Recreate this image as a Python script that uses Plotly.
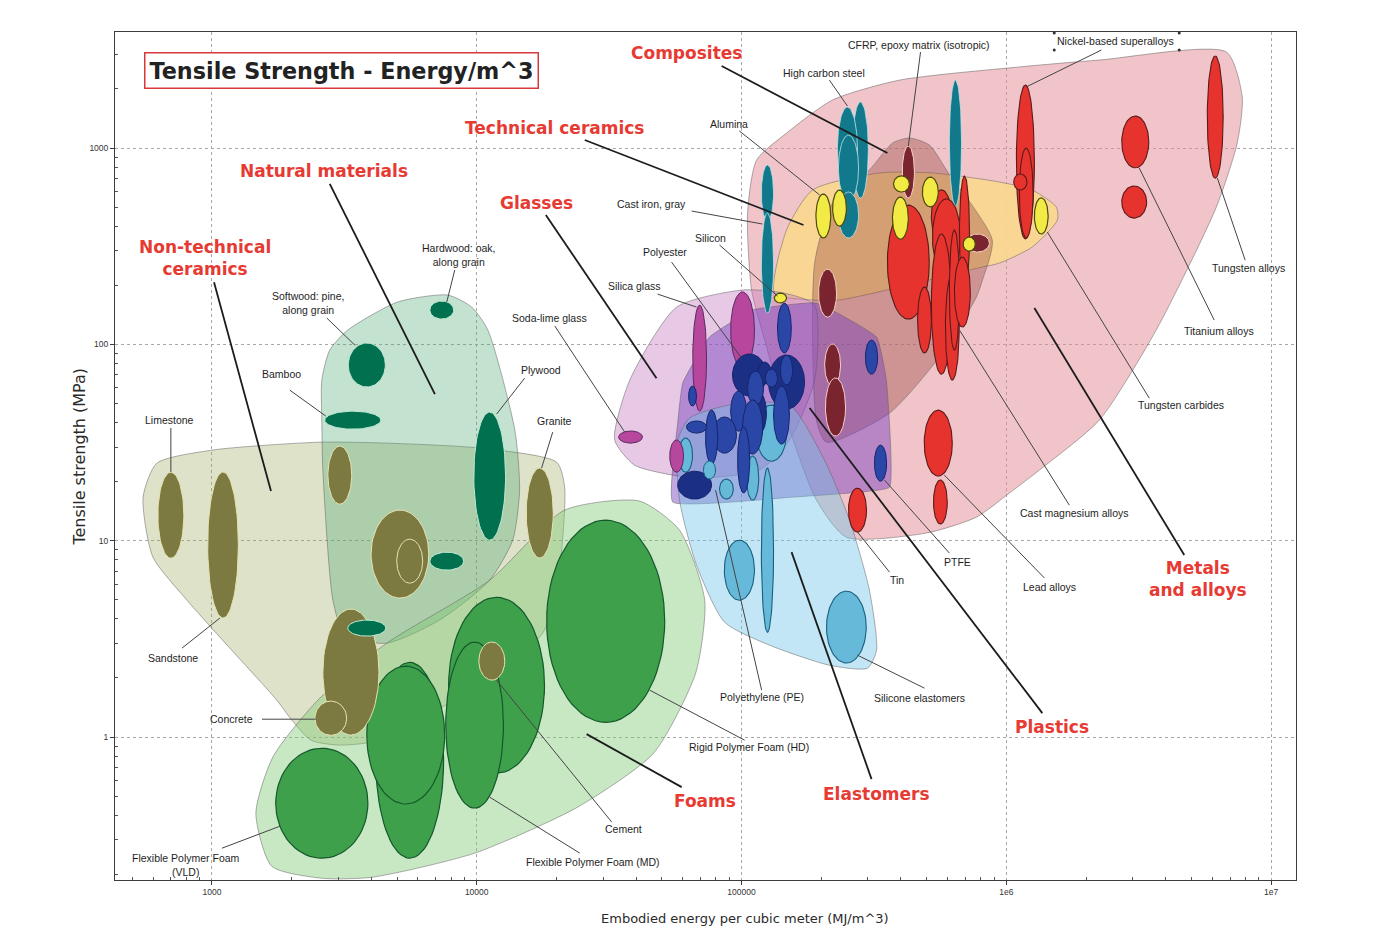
import numpy as np
import plotly.graph_objects as go

# All positions below are log10 of the axis values:
# energy = log10(MJ/m^3), strength = log10(MPa)
X_TICKS = [1000, 10000, 100000, 1000000, 10000000]
X_TICK_LABELS = ["1000", "10000", "100000", "1e6", "1e7"]
Y_TICKS = [1, 10, 100, 1000]
Y_TICK_LABELS = ["1", "10", "100", "1000"]
LOG_X_RANGE = [2.634, 7.094]
LOG_Y_RANGE = [-0.728, 3.591]
MINOR_DIGITS = [2, 3, 4, 5, 6, 7, 8, 9]

# ---- family envelopes ----
NONTECH_HULL_E = [2.740, 2.792, 3.004, 3.408, 3.660, 4.011, 4.302, 4.332, 4.313, 4.249, 3.974, 3.634, 3.483, 3.374, 3.302, 3.245, 3.030, 2.906, 2.777, 2.740]
NONTECH_HULL_S = [1.222, 1.395, 1.462, 1.502, 1.497, 1.472, 1.400, 1.273, 0.866, 0.529, 0.239, -0.016, -0.041, -0.016, 0.086, 0.188, 0.509, 0.697, 0.917, 1.222]
NATURAL_HULL_E = [3.513, 3.702, 3.891, 3.981, 4.042, 4.144, 4.162, 4.136, 4.049, 3.860, 3.660, 3.502, 3.457, 3.419, 3.415, 3.415, 3.445, 3.513]
NATURAL_HULL_S = [2.073, 2.216, 2.251, 2.190, 2.073, 1.563, 1.258, 1.003, 0.799, 0.596, 0.478, 0.519, 0.697, 1.360, 1.614, 1.818, 1.971, 2.073]
FOAM_HULL_E = [4.332, 4.615, 4.766, 4.861, 4.827, 4.668, 4.381, 3.993, 3.604, 3.415, 3.226, 3.166, 3.230, 3.400, 3.660, 4.049, 4.332]
FOAM_HULL_S = [1.156, 1.202, 1.054, 0.697, 0.326, -0.082, -0.357, -0.591, -0.714, -0.719, -0.658, -0.388, -0.102, 0.188, 0.478, 0.799, 1.156]
METAL_HULL_E = [5.023, 5.057, 5.170, 5.344, 5.597, 6.049, 6.351, 6.831, 6.891, 6.872, 6.793, 6.566, 6.351, 6.125, 6.012, 5.887, 5.698, 5.396, 5.283, 5.170, 5.095, 5.038, 5.023]
METAL_HULL_S = [2.669, 2.939, 3.076, 3.245, 3.346, 3.413, 3.448, 3.489, 3.260, 3.025, 2.699, 2.073, 1.614, 1.360, 1.243, 1.120, 1.039, 1.018, 1.207, 1.614, 1.986, 2.277, 2.669]
CERAMIC_HULL_E = [5.125, 5.170, 5.268, 5.521, 5.721, 5.974, 6.098, 6.189, 6.193, 6.098, 5.974, 5.910, 5.370, 5.268, 5.125]
CERAMIC_HULL_S = [2.261, 2.582, 2.786, 2.873, 2.873, 2.827, 2.786, 2.699, 2.633, 2.496, 2.414, 2.394, 2.226, 2.226, 2.261]
COMPOSITE_HULL_E = [5.483, 5.570, 5.634, 5.710, 5.774, 5.947, 5.910, 5.887, 5.759, 5.559, 5.321, 5.283, 5.276, 5.344, 5.483]
COMPOSITE_HULL_S = [2.888, 3.025, 3.051, 3.015, 2.888, 2.531, 2.328, 2.241, 1.956, 1.650, 1.502, 1.614, 2.414, 2.720, 2.888]
GLASS_HULL_E = [4.521, 4.578, 4.755, 5.004, 5.162, 5.276, 5.276, 5.181, 5.068, 4.842, 4.740, 4.596, 4.521]
GLASS_HULL_S = [1.513, 1.818, 2.190, 2.277, 2.261, 2.200, 1.818, 1.513, 1.360, 1.319, 1.334, 1.385, 1.513]
ELASTOMER_HULL_E = [4.759, 4.804, 4.955, 5.181, 5.313, 5.408, 5.483, 5.510, 5.476, 5.332, 5.106, 4.936, 4.830, 4.766, 4.759]
ELASTOMER_HULL_S = [1.513, 1.625, 1.691, 1.691, 1.411, 1.105, 0.748, 0.443, 0.351, 0.366, 0.468, 0.585, 0.876, 1.207, 1.513]
PLASTIC_HULL_E = [4.740, 5.193, 5.408, 5.559, 5.547, 5.510, 5.283, 5.042, 4.879, 4.778, 4.759, 4.740]
PLASTIC_HULL_S = [1.197, 1.222, 1.243, 1.273, 1.818, 2.037, 2.210, 2.175, 2.037, 1.803, 1.599, 1.197]

# ---- material bubbles: centre and half-range in decades ----
FOAM_E = [3.415, 3.747, 3.732, 4.075, 3.992, 4.487]
FOAM_S = [-0.337, -0.118, 0.010, 0.264, 0.061, 0.590]
FOAM_W = [0.174, 0.128, 0.147, 0.181, 0.109, 0.223]
FOAM_H = [0.280, 0.499, 0.351, 0.448, 0.423, 0.515]

STONE_E = [2.845, 3.042, 4.238, 3.483, 3.710, 3.525, 3.449, 3.747, 4.057]
STONE_S = [1.130, 0.978, 1.141, 1.334, 0.932, 0.331, 0.096, 0.896, 0.387]
STONE_W = [0.049, 0.058, 0.051, 0.045, 0.109, 0.106, 0.060, 0.049, 0.049]
STONE_H = [0.219, 0.372, 0.229, 0.148, 0.224, 0.321, 0.087, 0.112, 0.097]

WOOD_E = [3.868, 3.585, 3.532, 4.049, 3.887, 3.585]
WOOD_S = [2.175, 1.895, 1.614, 1.329, 0.896, 0.555]
WOOD_W = [0.045, 0.070, 0.106, 0.060, 0.064, 0.072]
WOOD_H = [0.046, 0.112, 0.046, 0.326, 0.046, 0.041]

GLASS_E = [4.842, 5.004, 4.581]
GLASS_S = [1.930, 2.073, 1.528]
GLASS_W = [0.026, 0.045, 0.045]
GLASS_H = [0.270, 0.194, 0.031]

STEEL_E = [5.098, 5.098, 5.449, 5.400, 5.404, 5.404, 5.808]
STEEL_S = [2.771, 2.414, 2.990, 2.990, 2.898, 2.659, 3.025]
STEEL_W = [0.023, 0.023, 0.030, 0.038, 0.038, 0.038, 0.023]
STEEL_H = [0.143, 0.255, 0.245, 0.219, 0.168, 0.117, 0.321]

COMPOSITE_E = [5.630, 5.325, 5.344, 5.355, 5.891]
COMPOSITE_S = [2.878, 2.261, 1.895, 1.681, 2.516]
COMPOSITE_W = [0.023, 0.034, 0.030, 0.038, 0.045]
COMPOSITE_H = [0.132, 0.122, 0.107, 0.148, 0.046]

METAL_E = [5.630, 5.755, 5.774, 5.842, 5.691, 5.755, 5.796, 5.804, 5.834, 5.743, 5.751, 5.438, 6.072, 6.075, 6.053, 6.487, 6.483, 6.789]
METAL_S = [2.419, 2.649, 2.547, 2.567, 2.124, 2.205, 2.088, 2.277, 2.266, 1.497, 1.197, 1.156, 2.929, 2.771, 2.827, 3.031, 2.725, 3.158]
METAL_W = [0.079, 0.038, 0.053, 0.019, 0.026, 0.038, 0.026, 0.019, 0.030, 0.053, 0.026, 0.034, 0.034, 0.026, 0.025, 0.051, 0.047, 0.030]
METAL_H = [0.290, 0.138, 0.194, 0.290, 0.168, 0.357, 0.270, 0.306, 0.178, 0.168, 0.112, 0.112, 0.392, 0.229, 0.041, 0.132, 0.082, 0.311]

CERAMIC_E = [5.309, 5.370, 5.604, 5.713, 5.600, 5.860, 5.147, 6.132]
CERAMIC_S = [2.654, 2.694, 2.817, 2.776, 2.643, 2.511, 2.236, 2.654]
CERAMIC_W = [0.028, 0.026, 0.030, 0.030, 0.030, 0.023, 0.023, 0.026]
CERAMIC_H = [0.112, 0.092, 0.041, 0.076, 0.107, 0.036, 0.025, 0.092]

ELASTOMER_E = [5.098, 4.992, 5.396, 5.113, 5.042, 4.789, 4.943]
ELASTOMER_S = [0.952, 0.850, 0.560, 1.548, 1.319, 1.436, 1.263]
ELASTOMER_W = [0.023, 0.057, 0.075, 0.057, 0.023, 0.026, 0.026]
ELASTOMER_H = [0.418, 0.153, 0.183, 0.143, 0.112, 0.087, 0.051]

NAVY_E = [5.030, 5.170, 4.823, 5.087, 5.068]
NAVY_S = [1.844, 1.808, 1.283, 1.854, 1.650]
NAVY_W = [0.064, 0.068, 0.064, 0.026, 0.026]
NAVY_H = [0.107, 0.138, 0.071, 0.056, 0.102]

PLASTIC_E = [5.162, 5.170, 5.113, 5.053, 4.989, 5.151, 5.042, 5.008, 4.936, 4.887, 4.830, 4.815, 5.491, 5.525]
PLASTIC_S = [2.083, 1.869, 1.828, 1.777, 1.660, 1.640, 1.579, 1.411, 1.538, 1.528, 1.579, 1.737, 1.935, 1.395]
PLASTIC_W = [0.026, 0.023, 0.023, 0.030, 0.030, 0.030, 0.038, 0.023, 0.045, 0.023, 0.038, 0.015, 0.023, 0.023]
PLASTIC_H = [0.127, 0.076, 0.046, 0.087, 0.102, 0.148, 0.138, 0.168, 0.092, 0.138, 0.031, 0.051, 0.087, 0.092]

LATE_E = [4.755, 4.879]
LATE_S = [1.431, 1.360]
LATE_W = [0.026, 0.023]
LATE_H = [0.082, 0.046]

# ---- leaders: from energy, from strength, to energy, to strength ----
GROUP_LEADERS = [
    (4.925, 3.418, 5.551, 2.975), (4.408, 3.041, 5.234, 2.608), (3.445, 2.817, 3.842, 1.747),
    (4.261, 2.659, 4.679, 1.828), (3.008, 2.317, 3.223, 1.253), (6.106, 2.185, 6.672, 0.927),
    (5.257, 1.676, 6.136, 0.122), (5.189, 0.942, 5.491, -0.214), (4.415, 0.015, 4.774, -0.255),
]
LABEL_LEADERS = [
    (3.917, 2.379, 3.887, 2.216), (3.434, 2.134, 3.540, 1.996), (3.294, 1.767, 3.430, 1.635),
    (2.845, 1.574, 2.845, 1.350), (4.181, 1.828, 4.075, 1.645), (4.287, 1.553, 4.245, 1.370),
    (2.887, 0.453, 3.030, 0.606), (3.189, 0.091, 3.392, 0.091), (4.510, -0.433, 4.075, 0.290),
    (4.389, -0.591, 4.049, -0.306), (3.038, -0.566, 3.257, -0.454), (5.012, -0.016, 4.653, 0.239),
    (5.076, 0.239, 4.902, 1.258), (5.691, 0.249, 5.438, 0.417), (5.559, 0.840, 5.438, 1.044),
    (5.785, 0.937, 5.540, 1.309), (6.144, 0.810, 5.766, 1.334), (6.238, 1.181, 5.823, 2.073),
    (6.540, 1.726, 6.155, 2.572), (6.785, 2.124, 6.502, 2.898), (6.902, 2.429, 6.797, 2.847),
    (6.359, 3.499, 6.075, 3.311), (5.676, 3.489, 5.630, 3.010), (5.332, 3.346, 5.400, 3.214),
    (4.992, 3.087, 5.295, 2.761), (4.812, 2.679, 5.079, 2.613), (4.917, 2.506, 5.136, 2.246),
    (4.736, 2.419, 5.000, 1.930), (4.683, 2.256, 4.830, 2.190), (4.295, 2.093, 4.559, 1.553),
]
BOX_CORNERS_E = [6.181, 6.653, 6.181, 6.653]
BOX_CORNERS_S = [3.586, 3.586, 3.499, 3.499]

# ---- text ----
GROUP_TEXT = ["Composites", "Technical ceramics", "Natural materials", "Glasses", "Non-technical<br>ceramics",
              "Metals<br>and alloys", "Plastics", "Elastomers", "Foams"]
GROUP_TEXT_E = [4.793, 4.295, 3.423, 4.227, 2.974, 6.725, 6.174, 5.510, 4.861]
GROUP_TEXT_S = [3.484, 3.102, 2.883, 2.720, 2.440, 0.804, 0.051, -0.291, -0.326]

LABEL_TEXT = ["CFRP, epoxy matrix (isotropic)", "Nickel-based superalloys", "High carbon steel", "Alumina",
              "Cast iron, gray", "Silicon", "Polyester", "Silica glass", "Soda-lime glass",
              "Hardwood: oak,<br>along grain", "Softwood: pine,<br>along grain", "Bamboo", "Plywood", "Limestone",
              "Granite", "Sandstone", "Concrete", "Cement", "Flexible Polymer Foam<br>(VLD)",
              "Flexible Polymer Foam (MD)", "Rigid Polymer Foam (HD)", "Polyethylene (PE)", "Silicone elastomers",
              "Tin", "PTFE", "Lead alloys", "Cast magnesium alloys", "Tungsten carbides", "Titanium alloys",
              "Tungsten alloys"]
LABEL_TEXT_E = [5.672, 6.412, 5.313, 4.951, 4.661, 4.883, 4.710, 4.596, 4.276, 3.932, 3.362, 3.264, 4.242, 2.838,
                4.295, 2.853, 3.075, 4.555, 2.902, 4.438, 5.030, 5.079, 5.672, 5.589, 5.815, 6.163, 6.257, 6.661,
                6.804, 6.914]
LABEL_TEXT_S = [3.525, 3.545, 3.382, 3.122, 2.715, 2.542, 2.470, 2.297, 2.134, 2.455, 2.210, 1.849, 1.869, 1.614,
                1.609, 0.402, 0.091, -0.469, -0.652, -0.637, -0.051, 0.203, 0.198, 0.799, 0.891, 0.764, 1.141,
                1.691, 2.068, 2.389]

TITLE_TEXT = "Tensile Strength - Energy/m^3"
X_TITLE = "Embodied energy per cubic meter (MJ/m^3)"
Y_TITLE = "Tensile strength (MPa)"

fig = go.Figure()
theta = np.linspace(0, 2 * np.pi, 73)


def hull(e, s, color, smoothing=0.65):
    fig.add_trace(go.Scatter(
        x=10 ** np.array(e), y=10 ** np.array(s), mode="lines", fill="toself", fillcolor=color,
        line=dict(color="rgba(95,95,95,0.5)", width=1, shape="spline", smoothing=smoothing),
        hoverinfo="skip", showlegend=False))


def bubbles(e, s, w, h, fill, edge, width=1.0):
    for ei, si, wi, hi in zip(e, s, w, h):
        fig.add_trace(go.Scatter(
            x=10 ** (ei + wi * np.cos(theta)), y=10 ** (si + hi * np.sin(theta)), mode="lines", fill="toself",
            fillcolor=fill, line=dict(color=edge, width=width), hoverinfo="skip", showlegend=False))


def leaders(rows, color, width):
    for x0, y0, x1, y1 in rows:
        fig.add_trace(go.Scatter(
            x=[10 ** x0, 10 ** x1], y=[10 ** y0, 10 ** y1], mode="lines",
            line=dict(color=color, width=width), hoverinfo="skip", showlegend=False))


hull(METAL_HULL_E, METAL_HULL_S, "rgba(225,137,147,0.5)")
hull(CERAMIC_HULL_E, CERAMIC_HULL_S, "rgba(250,216,140,0.88)")
hull(COMPOSITE_HULL_E, COMPOSITE_HULL_S, "rgba(150,70,60,0.38)")
hull(GLASS_HULL_E, GLASS_HULL_S, "rgba(195,120,190,0.4)")
hull(PLASTIC_HULL_E, PLASTIC_HULL_S, "rgba(115,60,190,0.45)", 0.35)
hull(ELASTOMER_HULL_E, ELASTOMER_HULL_S, "rgba(110,195,230,0.42)")
hull(NONTECH_HULL_E, NONTECH_HULL_S, "rgba(150,165,85,0.32)")
hull(NATURAL_HULL_E, NATURAL_HULL_S, "rgba(70,165,110,0.32)")
hull(FOAM_HULL_E, FOAM_HULL_S, "rgba(125,200,115,0.42)")

bubbles(FOAM_E, FOAM_S, FOAM_W, FOAM_H, "#3fa04c", "#14582c", 1.2)
bubbles(STONE_E, STONE_S, STONE_W, STONE_H, "#7c7a40", "#e6e2b4", 1)
bubbles(WOOD_E, WOOD_S, WOOD_W, WOOD_H, "#00704f", "#bfe8d4", 1)
bubbles(GLASS_E, GLASS_S, GLASS_W, GLASS_H, "#b6479c", "#5a2a60", 1)
bubbles(STEEL_E, STEEL_S, STEEL_W, STEEL_H, "#12788c", "#bfe3e6", 0.8)
bubbles(COMPOSITE_E, COMPOSITE_S, COMPOSITE_W, COMPOSITE_H, "#7a2430", "#f4d0c8", 1)
bubbles(METAL_E, METAL_S, METAL_W, METAL_H, "#e6332e", "#5c1a1c", 1.1)
bubbles(CERAMIC_E, CERAMIC_S, CERAMIC_W, CERAMIC_H, "#f2ea45", "#4c4a10", 1.2)
bubbles(ELASTOMER_E, ELASTOMER_S, ELASTOMER_W, ELASTOMER_H, "#66b9d8", "#1b5f80", 1.1)
bubbles(NAVY_E, NAVY_S, NAVY_W, NAVY_H, "#1b2f85", "#16246a", 1)
bubbles(PLASTIC_E, PLASTIC_S, PLASTIC_W, PLASTIC_H, "#2a46a6", "#16246a", 1)
bubbles(LATE_E[:1], LATE_S[:1], LATE_W[:1], LATE_H[:1], "#b6479c", "#5a2a60", 1)
bubbles(LATE_E[1:], LATE_S[1:], LATE_W[1:], LATE_H[1:], "#66b9d8", "#1b5f80", 1)

leaders(LABEL_LEADERS, "#444444", 1)
leaders(GROUP_LEADERS, "#1c1c1c", 1.8)
fig.add_trace(go.Scatter(x=10 ** np.array(BOX_CORNERS_E), y=10 ** np.array(BOX_CORNERS_S), mode="markers",
                         marker=dict(color="#333333", size=3), hoverinfo="skip", showlegend=False))

annotations = []
for t, e, s in zip(GROUP_TEXT, GROUP_TEXT_E, GROUP_TEXT_S):
    annotations.append(dict(x=e, y=s, xref="x", yref="y", text="<b>%s</b>" % t, showarrow=False,
                            font=dict(family="DejaVu Sans", size=17, color="#e63a33"), align="center"))
for t, e, s in zip(LABEL_TEXT, LABEL_TEXT_E, LABEL_TEXT_S):
    annotations.append(dict(x=e, y=s, xref="x", yref="y", text=t, showarrow=False,
                            font=dict(family="Liberation Sans", size=10.5, color="#1e1e1e"), align="center"))
annotations.append(dict(x=3.491, y=3.397, xref="x", yref="y", text="<b>%s</b>" % TITLE_TEXT, showarrow=False,
                        font=dict(family="DejaVu Sans", size=22.3, color="#222222"), bgcolor="white",
                        bordercolor="#d8383c", borderwidth=1.5, borderpad=4))
annotations.append(dict(x=5.012, y=-0.0566, xref="x", yref="paper", text=X_TITLE, showarrow=False,
                        font=dict(family="DejaVu Sans", size=13, color="#2a2a2a")))
annotations.append(dict(x=-0.0398, y=1.431, xref="paper", yref="y", text=Y_TITLE, showarrow=False, textangle=-90,
                        font=dict(family="DejaVu Sans", size=16, color="#2a2a2a")))

minor_x = [d * 10 ** k for k in range(2, 7) for d in MINOR_DIGITS]
minor_y = [d * 10 ** k for k in range(-1, 4) for d in MINOR_DIGITS]

axis_common = dict(type="log", showgrid=True, gridcolor="#a8a8a8", griddash="dot", gridwidth=1,
                   showline=True, linecolor="#3c3c3c", linewidth=1, mirror=True, zeroline=False,
                   ticks="outside", ticklen=4, tickcolor="#3c3c3c", tickmode="array",
                   tickfont=dict(family="Liberation Sans", size=8.5, color="#333333"))

fig.update_layout(
    width=1378, height=930, autosize=False,
    margin=dict(l=107, r=90, t=24, b=58),
    paper_bgcolor="white", plot_bgcolor="white", showlegend=False,
    annotations=annotations,
    xaxis=dict(range=LOG_X_RANGE, tickvals=X_TICKS, ticktext=X_TICK_LABELS,
               minor=dict(tickmode="array", tickvals=minor_x, ticks="inside", ticklen=3, tickcolor="#555555", showgrid=False),
               **axis_common),
    yaxis=dict(range=LOG_Y_RANGE, tickvals=Y_TICKS, ticktext=Y_TICK_LABELS,
               minor=dict(tickmode="array", tickvals=minor_y, ticks="inside", ticklen=3, tickcolor="#555555", showgrid=False),
               **axis_common),
)

fig.write_html("out.html")
